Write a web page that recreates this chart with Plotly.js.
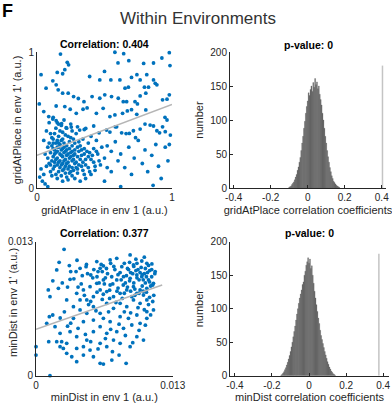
<!DOCTYPE html>
<html><head><meta charset="utf-8">
<script src="https://cdn.plot.ly/plotly-3.0.1.min.js"></script>
<style>html,body{margin:0;padding:0;background:#fff}#chart{width:392px;height:405px}</style>
</head><body><div id="chart"></div>
<script>
// ---- Panel 1: gridAtPlace scatter (env 1 vs env 1') ----
const gridEnv1 = [0.174,0.577,0.642,0.98,0.925,0.68,0.60,0.224,0.234,0.79,0.863,0.985,0.03,0.206,0.15,0.19,0.39,0.465,0.50,0.547,0.614,0.70,0.74,0.764,0.813,0.863,0.876,0.888,0.826,0.796,0.806,0.652,0.677,0.117,0.142,0.067,0.157,0.19,0.231,0.271,0.306,0.348,0.408,0.465,0.502,0.552,0.602,0.639,0.664,0.726,0.744,0.764,0.93,0.963,0.98,0.017,0.142,0.206,0.246,0.291,0.341,0.371,0.44,0.49,0.54,0.577,0.634,0.669,0.70,0.739,0.806,0.948,0.963,0.988,0.98,0.05,0.087,0.117,0.142,0.159,0.182,0.216,0.254,0.316,0.361,0.42,0.46,0.515,0.54,0.59,0.627,0.684,0.714,0.764,0.838,0.863,0.888,0.908,0.95,
0.10,0.12,0.14,0.16,0.18,0.20,0.22,0.24,0.26,0.28,0.13,0.15,0.17,0.19,0.21,0.23,0.25,0.11,0.09,0.07,0.08,0.10,0.12,0.18,0.20,0.22,0.24,0.26,0.28,0.30,0.32,0.34,0.36,0.30,0.33,0.35,0.38,0.40,0.42,0.16,0.19,0.23,0.27,0.31,0.14,0.18,0.22,0.26,0.29,0.17,0.19,0.21,0.23,0.27,0.25,0.15,0.13,0.15,0.17,0.19,0.21,0.12,0.10,0.14,0.18,0.22,0.26,0.30,0.34,0.38,0.29,0.31,0.27,0.20,0.16,0.24,0.08,0.06,0.05,0.07,0.09,0.12,0.15,0.20,0.25,0.30,0.35,0.40,0.44,0.48,0.45,0.50,0.47,0.43,0.40,0.36,0.32,0.05,0.04,0.06,0.08,0.03,0.02,
0.52,0.55,0.58,0.60,0.62,0.65,0.68,0.70,0.72,0.75,0.78,0.80,0.82,0.85,0.88,0.90,0.92,0.95,0.97,0.86,0.62,0.50,0.55,0.66,0.73,0.58,0.80,0.93,0.44,0.52,
0.11,0.13,0.15,0.17,0.19,0.21,0.23,0.25,0.27,0.29,0.31,0.33,0.12,0.14,0.16,0.18,0.20,0.22,0.24,0.26,0.28,0.10,0.09,0.11,0.13,0.17,0.21,0.25,0.28,0.32,0.35,0.37,0.39,0.41,0.36,0.33,0.30,0.24,0.20,0.16,0.13,0.11,0.15,0.19,0.23,0.28,0.35,0.39,0.43,0.46,0.42,0.38,0.34,0.19,0.15,0.12,0.22,0.26,0.18,0.14];
const gridEnv1p = [0.985,0.998,0.988,0.995,0.956,0.936,0.92,0.924,0.906,0.916,0.919,0.90,0.833,0.87,0.85,0.84,0.82,0.795,0.857,0.795,0.795,0.813,0.833,0.795,0.833,0.795,0.77,0.759,0.741,0.741,0.697,0.734,0.741,0.788,0.759,0.734,0.722,0.697,0.697,0.672,0.658,0.635,0.672,0.66,0.685,0.672,0.66,0.635,0.635,0.635,0.618,0.677,0.648,0.653,0.685,0.618,0.603,0.599,0.579,0.549,0.579,0.589,0.549,0.586,0.525,0.537,0.549,0.567,0.576,0.542,0.574,0.52,0.50,0.389,0.32,0.562,0.525,0.507,0.495,0.47,0.473,0.443,0.448,0.426,0.438,0.456,0.406,0.426,0.411,0.45,0.406,0.401,0.421,0.433,0.463,0.456,0.421,0.406,0.414,
0.40,0.36,0.33,0.30,0.28,0.26,0.24,0.22,0.20,0.18,0.25,0.22,0.20,0.18,0.16,0.14,0.12,0.20,0.18,0.16,0.22,0.26,0.29,0.35,0.33,0.31,0.29,0.27,0.25,0.23,0.21,0.19,0.17,0.30,0.28,0.25,0.23,0.21,0.19,0.38,0.41,0.38,0.36,0.34,0.44,0.46,0.44,0.42,0.40,0.25,0.23,0.21,0.19,0.24,0.26,0.27,0.19,0.17,0.15,0.13,0.11,0.14,0.12,0.10,0.09,0.08,0.09,0.11,0.13,0.15,0.15,0.17,0.13,0.30,0.33,0.34,0.30,0.25,0.35,0.42,0.48,0.52,0.48,0.50,0.47,0.45,0.43,0.38,0.35,0.30,0.25,0.22,0.17,0.13,0.10,0.07,0.05,0.10,0.05,0.03,0.01,0.14,0.08,
0.31,0.27,0.34,0.20,0.25,0.15,0.30,0.10,0.22,0.35,0.18,0.28,0.12,0.24,0.32,0.16,0.07,0.30,0.20,0.02,0.01,0.05,0.12,0.40,0.37,0.45,0.47,0.45,0.27,0.15,
0.31,0.28,0.35,0.32,0.29,0.27,0.25,0.23,0.21,0.19,0.27,0.24,0.23,0.21,0.19,0.17,0.20,0.18,0.16,0.15,0.28,0.17,0.33,0.37,0.40,0.42,0.39,0.37,0.33,0.31,0.29,0.27,0.26,0.24,0.21,0.16,0.14,0.11,0.14,0.12,0.16,0.09,0.07,0.05,0.06,0.07,0.10,0.12,0.16,0.20,0.29,0.33,0.36,0.36,0.30,0.33,0.28,0.31,0.24,0.26];
const gridFitX = [0, 1];
const gridFitY = [0.24, 0.615];

// ---- Panel 2: gridAtPlace shuffled correlation histogram ----
const gridHistBins = [-0.100,-0.095,-0.090,-0.085,-0.080,-0.075,-0.070,-0.065,-0.060,-0.055,-0.050,-0.045,-0.040,-0.035,-0.030,-0.025,-0.020,-0.015,-0.010,-0.005,0.000,0.005,0.010,0.015,0.020,0.025,0.030,0.035,0.040,0.045,0.050,0.055,0.060,0.065,0.070,0.075,0.080,0.085,0.090,0.095,0.100,0.105,0.110,0.115,0.120,0.125,0.130,0.135,0.140,0.145,0.150,0.155,0.160,0.165,0.170];
const gridHistCounts = [1,2,3,5,7,9,12,16,20,26,31,38,45,55,66,76,88,98,110,120,128,140,136,145,150,142,155,148,161,152,156,146,150,138,130,122,110,100,88,76,66,55,46,38,30,24,18,14,10,8,6,4,3,2,1];
const gridObserved = [0.404, 0.404];
const gridObservedH = [0, 180];

// ---- Panel 3: minDist scatter ----
const minEnv1 = [2.67e-3,1.97e-3,3.17e-3,3.30e-3,3.24e-3,3.81e-3,4.19e-3,4.76e-3,5.21e-3,5.78e-3,6.10e-3,6.41e-3,7.05e-3,7.68e-3,8.16e-3,8.95e-3,9.27e-3,10.06e-3,10.54e-3,11.02e-3,11.33e-3,1.17e-3,1.33e-3,2.13e-3,1.59e-3,1.27e-3,1.02e-3,1.21e-3,0,0,1.33e-3,1.81e-3,2.29e-3,2.44e-3,2.60e-3,2.92e-3,3.40e-3,3.87e-3,6.10e-3,6.41e-3,7.21e-3,8.57e-3,7.9e-3,7.27e-3,8.95e-3,9.59e-3,10.22e-3,5.14e-3,4.51e-3,4.83e-3,3.87e-3,3.24e-3,5.46e-3,6.10e-3,6.73e-3,7.68e-3,8.32e-3,9.11e-3,9.90e-3,10.54e-3,11.17e-3,4.19e-3,4.83e-3,5.46e-3,6.10e-3,6.73e-3,7.37e-3,8.0e-3,8.63e-3,9.27e-3,9.90e-3,10.54e-3,2.92e-3,3.56e-3,3.87e-3,4.51e-3,5.14e-3,5.78e-3,6.41e-3,7.05e-3,7.68e-3,8.32e-3,8.95e-3,9.59e-3,10.06e-3,10.70e-3,11.17e-3,9.27e-3,8.63e-3,9.9e-3,10.54e-3,10.22e-3,9.59e-3,9.11e-3,8.0e-3,7.37e-3,6.73e-3,6.10e-3,5.46e-3,4.83e-3,4.19e-3,3.56e-3,4.51e-3,5.46e-3,6.41e-3,7.05e-3,8.0e-3,8.79e-3,9.59e-3,10.54e-3,2.92e-3,3.87e-3,6.10e-3,6.73e-3,7.37e-3,8.0e-3,5.46e-3,4.51e-3,2.29e-3,1.97e-3,
9.5e-3,10.0e-3,10.3e-3,10.8e-3,9.8e-3,10.4e-3,11.0e-3,9.2e-3,8.8e-3,9.6e-3,10.9e-3,10.2e-3,9.4e-3,8.5e-3,8.0e-3,7.5e-3,7.2e-3,6.8e-3,6.3e-3,5.8e-3,5.5e-3,4.9e-3,4.4e-3,7.8e-3,7.0e-3,6.5e-3,8.2e-3,11.2e-3,10.7e-3,11.3e-3,10.6e-3,
2.5e-3,3.0e-3,2.7e-3,3.3e-3,4.0e-3,4.7e-3,5.2e-3,5.9e-3,6.6e-3,7.1e-3,7.9e-3,8.5e-3,9.2e-3,9.8e-3,10.4e-3,10.9e-3,4.3e-3,5.0e-3,5.7e-3,6.3e-3,6.9e-3,7.6e-3,8.4e-3,9.0e-3,9.7e-3,10.3e-3,2.3e-3,3.0e-3,1.6e-3,2.2e-3,
8.4e-3,8.7e-3,9.0e-3,9.3e-3,9.7e-3,10.1e-3,10.4e-3,10.7e-3,11.0e-3,8.6e-3,8.9e-3,9.3e-3,9.6e-3,9.9e-3,10.2e-3,10.5e-3,10.8e-3,11.1e-3,8.3e-3,8.7e-3,9.0e-3,9.4e-3,9.8e-3,10.1e-3,10.5e-3,10.8e-3,11.1e-3,8.1e-3,7.8e-3,7.4e-3,7.1e-3,6.7e-3,6.2e-3,5.9e-3,5.4e-3,6.0e-3,6.6e-3,7.3e-3,7.7e-3,8.4e-3,7.0e-3,6.4e-3,5.8e-3,5.2e-3,4.6e-3,4.0e-3,3.6e-3,4.8e-3,3.9e-3,9.5e-3,10.3e-3,8.9e-3];
const minEnv1p = [12.26e-3,10.26e-3,10.68e-3,10.1e-3,9.35e-3,10.1e-3,10.42e-3,10.58e-3,9.77e-3,11.07e-3,10.42e-3,10.65e-3,11.23e-3,11.39e-3,10.58e-3,11.72e-3,10.74e-3,11.13e-3,10.9e-3,10.84e-3,10.1e-3,8.32e-3,7.67e-3,8.48e-3,5.89e-3,5.73e-3,5.08e-3,3.30e-3,2.82e-3,2.0e-3,0,4.76e-3,4.11e-3,3.30e-3,2.65e-3,2.17e-3,1.84e-3,1.36e-3,1.2e-3,1.13e-3,1.52e-3,1.2e-3,2.0e-3,2.33e-3,2.82e-3,3.79e-3,3.46e-3,2.49e-3,2.82e-3,3.46e-3,3.79e-3,4.27e-3,4.27e-3,4.76e-3,4.11e-3,4.27e-3,4.6e-3,4.92e-3,5.08e-3,6.21e-3,6.38e-3,6.38e-3,6.05e-3,6.7e-3,6.05e-3,7.02e-3,6.54e-3,7.02e-3,6.7e-3,7.35e-3,7.02e-3,7.35e-3,7.35e-3,6.7e-3,7.99e-3,8.32e-3,8.64e-3,8.96e-3,9.29e-3,8.8e-3,9.29e-3,9.61e-3,9.45e-3,9.77e-3,9.61e-3,9.29e-3,8.96e-3,8.64e-3,8.32e-3,8.32e-3,8.48e-3,7.83e-3,7.99e-3,7.67e-3,7.99e-3,7.67e-3,8.16e-3,8.32e-3,7.67e-3,7.35e-3,7.35e-3,5.57e-3,5.24e-3,5.4e-3,5.57e-3,5.24e-3,5.73e-3,5.57e-3,5.89e-3,5.57e-3,3.14e-3,2.65e-3,3.14e-3,2.82e-3,3.46e-3,3.14e-3,1.84e-3,2.0e-3,2.82e-3,3.3e-3,
10.2e-3,10.5e-3,9.9e-3,10.2e-3,9.3e-3,9.0e-3,9.6e-3,9.9e-3,10.3e-3,10.9e-3,8.7e-3,8.2e-3,8.4e-3,9.0e-3,10.0e-3,10.3e-3,9.6e-3,9.9e-3,10.1e-3,9.6e-3,10.3e-3,9.9e-3,9.7e-3,8.5e-3,8.3e-3,8.9e-3,7.5e-3,7.8e-3,6.9e-3,9.9e-3,10.0e-3,
9.0e-3,8.6e-3,6.2e-3,5.1e-3,4.6e-3,4.0e-3,3.3e-3,2.6e-3,3.6e-3,4.5e-3,5.0e-3,3.9e-3,3.2e-3,4.4e-3,4.9e-3,5.9e-3,8.9e-3,6.9e-3,6.3e-3,7.4e-3,6.2e-3,7.1e-3,6.2e-3,6.1e-3,6.6e-3,6.4e-3,5.6e-3,4.8e-3,9.2e-3,11.0e-3,
10.9e-3,10.4e-3,10.0e-3,10.6e-3,10.3e-3,9.8e-3,10.4e-3,10.7e-3,10.3e-3,9.7e-3,9.2e-3,9.0e-3,9.5e-3,10.0e-3,9.3e-3,9.6e-3,9.1e-3,8.8e-3,8.8e-3,8.6e-3,8.2e-3,7.8e-3,8.0e-3,8.7e-3,8.1e-3,7.6e-3,7.2e-3,9.3e-3,9.8e-3,10.6e-3,10.9e-3,10.4e-3,10.8e-3,10.1e-3,9.5e-3,9.0e-3,9.5e-3,8.9e-3,8.2e-3,8.0e-3,7.5e-3,7.9e-3,8.1e-3,7.2e-3,7.8e-3,8.6e-3,9.4e-3,10.8e-3,11.2e-3,11.3e-3,11.5e-3,11.0e-3];
const minFitX = [0, 0.012];
const minFitY = [0.0045, 0.0088];

// ---- Panel 4: minDist shuffled correlation histogram ----
const minHistBins = [-0.150,-0.145,-0.140,-0.135,-0.130,-0.125,-0.120,-0.115,-0.110,-0.105,-0.100,-0.095,-0.090,-0.085,-0.080,-0.075,-0.070,-0.065,-0.060,-0.055,-0.050,-0.045,-0.040,-0.035,-0.030,-0.025,-0.020,-0.015,-0.010,-0.005,0.000,0.005,0.010,0.015,0.020,0.025,0.030,0.035,0.040,0.045,0.050,0.055,0.060,0.065,0.070,0.075,0.080,0.085,0.090,0.095,0.100,0.105,0.110,0.115,0.120,0.125,0.130,0.135,0.140];
const minHistCounts = [1,2,4,6,9,12,16,20,25,30,36,43,50,58,66,74,83,92,100,108,116,122,128,136,140,150,156,165,170,176,168,174,160,164,150,138,126,116,106,96,86,78,68,60,54,48,42,36,31,26,21,17,13,10,7,5,3,2,1];
const minObserved = [0.377, 0.377];
const minObservedH = [0, 182];

// ---- Tick labels ----
const histTickVals = [-0.4, -0.2, 0, 0.2, 0.4];
const histTickText = ['-0.4', '-0.2', '0', '0.2', '0.4'];
const countTickVals = [0, 50, 100, 150, 200];
const gridTickVals = [0, 1];
const minTickVals = [0, 0.013];
const minTickText = ['0', '0.013'];

const W = 392, H = 405;
const px = v => v / W;
const py = v => 1 - v / H;
const FONT = 'Liberation Sans, Arial, Helvetica, sans-serif';
const TXT = '#262626';
const BLUE = '#0072BD';

const axBase = () => ({
  showline: true, linecolor: TXT, linewidth: 1, ticks: 'inside', ticklen: 3, tickwidth: 1,
  tickcolor: TXT, showgrid: false, zeroline: false, mirror: false, fixedrange: true,
  tickfont: {family: FONT, size: 10, color: TXT}
});
const axTitle = (text, standoff) => ({text, standoff, font: {family: FONT, size: 11, color: TXT}});

const traces = [
  {type: 'scatter', mode: 'markers', x: gridEnv1, y: gridEnv1p, xaxis: 'x', yaxis: 'y',
   marker: {color: BLUE, size: 3.8}, cliponaxis: false, hoverinfo: 'skip'},
  {type: 'scatter', mode: 'lines', x: gridFitX, y: gridFitY, xaxis: 'x', yaxis: 'y',
   line: {color: '#b5b5b5', width: 1.5}, hoverinfo: 'skip'},
  {type: 'bar', x: gridHistBins, y: gridHistCounts, width: 0.005, xaxis: 'x2', yaxis: 'y2',
   marker: {color: '#595959', line: {color: '#6a6a6a', width: 0.3}}, hoverinfo: 'skip'},
  {type: 'scatter', mode: 'lines', x: gridObserved, y: gridObservedH, xaxis: 'x2', yaxis: 'y2',
   line: {color: '#c4c4c4', width: 1.5}, hoverinfo: 'skip'},
  {type: 'scatter', mode: 'markers', x: minEnv1, y: minEnv1p, xaxis: 'x3', yaxis: 'y3',
   marker: {color: BLUE, size: 3.8}, cliponaxis: false, hoverinfo: 'skip'},
  {type: 'scatter', mode: 'lines', x: minFitX, y: minFitY, xaxis: 'x3', yaxis: 'y3',
   line: {color: '#b5b5b5', width: 1.5}, hoverinfo: 'skip'},
  {type: 'bar', x: minHistBins, y: minHistCounts, width: 0.005, xaxis: 'x4', yaxis: 'y4',
   marker: {color: '#595959', line: {color: '#6a6a6a', width: 0.3}}, hoverinfo: 'skip'},
  {type: 'scatter', mode: 'lines', x: minObserved, y: minObservedH, xaxis: 'x4', yaxis: 'y4',
   line: {color: '#c4c4c4', width: 1.5}, hoverinfo: 'skip'}
];

const topY = [py(188), py(52)];
const botY = [py(375.7), py(241.7)];

const ann = (text, x, y, opts) => Object.assign({text, x: px(x), y: py(y), xref: 'paper', yref: 'paper',
  showarrow: false, xanchor: 'center', yanchor: 'middle', font: {family: FONT, size: 11, color: TXT}}, opts || {});
const boldFont = () => ({family: FONT, size: 10.5, color: '#000'});

const layout = {
  width: W, height: H, margin: {l: 0, r: 0, t: 0, b: 0},
  paper_bgcolor: '#fff', plot_bgcolor: 'rgba(0,0,0,0)', showlegend: false, bargap: 0,
  title: {text: 'Within Environments', x: px(198), y: py(18), xanchor: 'center', yanchor: 'middle',
          font: {family: FONT, size: 17, color: '#333'}},
  xaxis: Object.assign(axBase(), {domain: [px(37), px(172)], range: [0, 1], anchor: 'y', tickvals: gridTickVals,
          title: axTitle('gridAtPlace in env 1 (a.u.)', 4)}),
  yaxis: Object.assign(axBase(), {domain: topY, range: [0, 1], anchor: 'x', tickvals: gridTickVals,
          title: axTitle("gridAtPlace in env 1' (a.u.)", 4)}),
  xaxis2: Object.assign(axBase(), {domain: [px(230), px(386)], range: [-0.42, 0.423], anchor: 'y2',
          tickvals: histTickVals, ticktext: histTickText, title: axTitle('gridAtPlace correlation coefficients', 4)}),
  yaxis2: Object.assign(axBase(), {domain: topY, range: [0, 200], anchor: 'x2', tickvals: countTickVals,
          title: axTitle('number', 4)}),
  xaxis3: Object.assign(axBase(), {domain: [px(36), px(172.7)], range: [0, 0.013], anchor: 'y3',
          tickvals: minTickVals, ticktext: minTickText, title: axTitle('minDist in env 1 (a.u.)', 3)}),
  yaxis3: Object.assign(axBase(), {domain: botY, range: [0, 0.013], anchor: 'x3',
          tickvals: minTickVals, ticktext: minTickText}),
  xaxis4: Object.assign(axBase(), {domain: [px(230.3), px(388.7)], range: [-0.425, 0.43], anchor: 'y4',
          tickvals: histTickVals, ticktext: histTickText, title: axTitle('minDist correlation coefficients', 1)}),
  yaxis4: Object.assign(axBase(), {domain: botY, range: [0, 200], anchor: 'x4', tickvals: countTickVals,
          title: axTitle('number', 4)})
};

const annotations = [
  ann('<b>F</b>', 0, 11, {xanchor: 'left', font: {family: FONT, size: 18, color: '#000'}}),
  ann('<b>Correlation: 0.404</b>', 104, 44, {font: boldFont()}),
  ann('<b>p-value: 0</b>', 308, 45, {font: boldFont()}),
  ann('<b>Correlation: 0.377</b>', 104, 233, {font: boldFont()}),
  ann('<b>p-value: 0</b>', 309, 233, {font: boldFont()}),
  ann("minDist in env 1' (a.u.)", 13, 303, {textangle: -90})
];

Plotly.newPlot('chart', traces, layout, {displayModeBar: false, staticPlot: true})
  .then(gd => Plotly.relayout(gd, {annotations: annotations}));
</script></body></html>
